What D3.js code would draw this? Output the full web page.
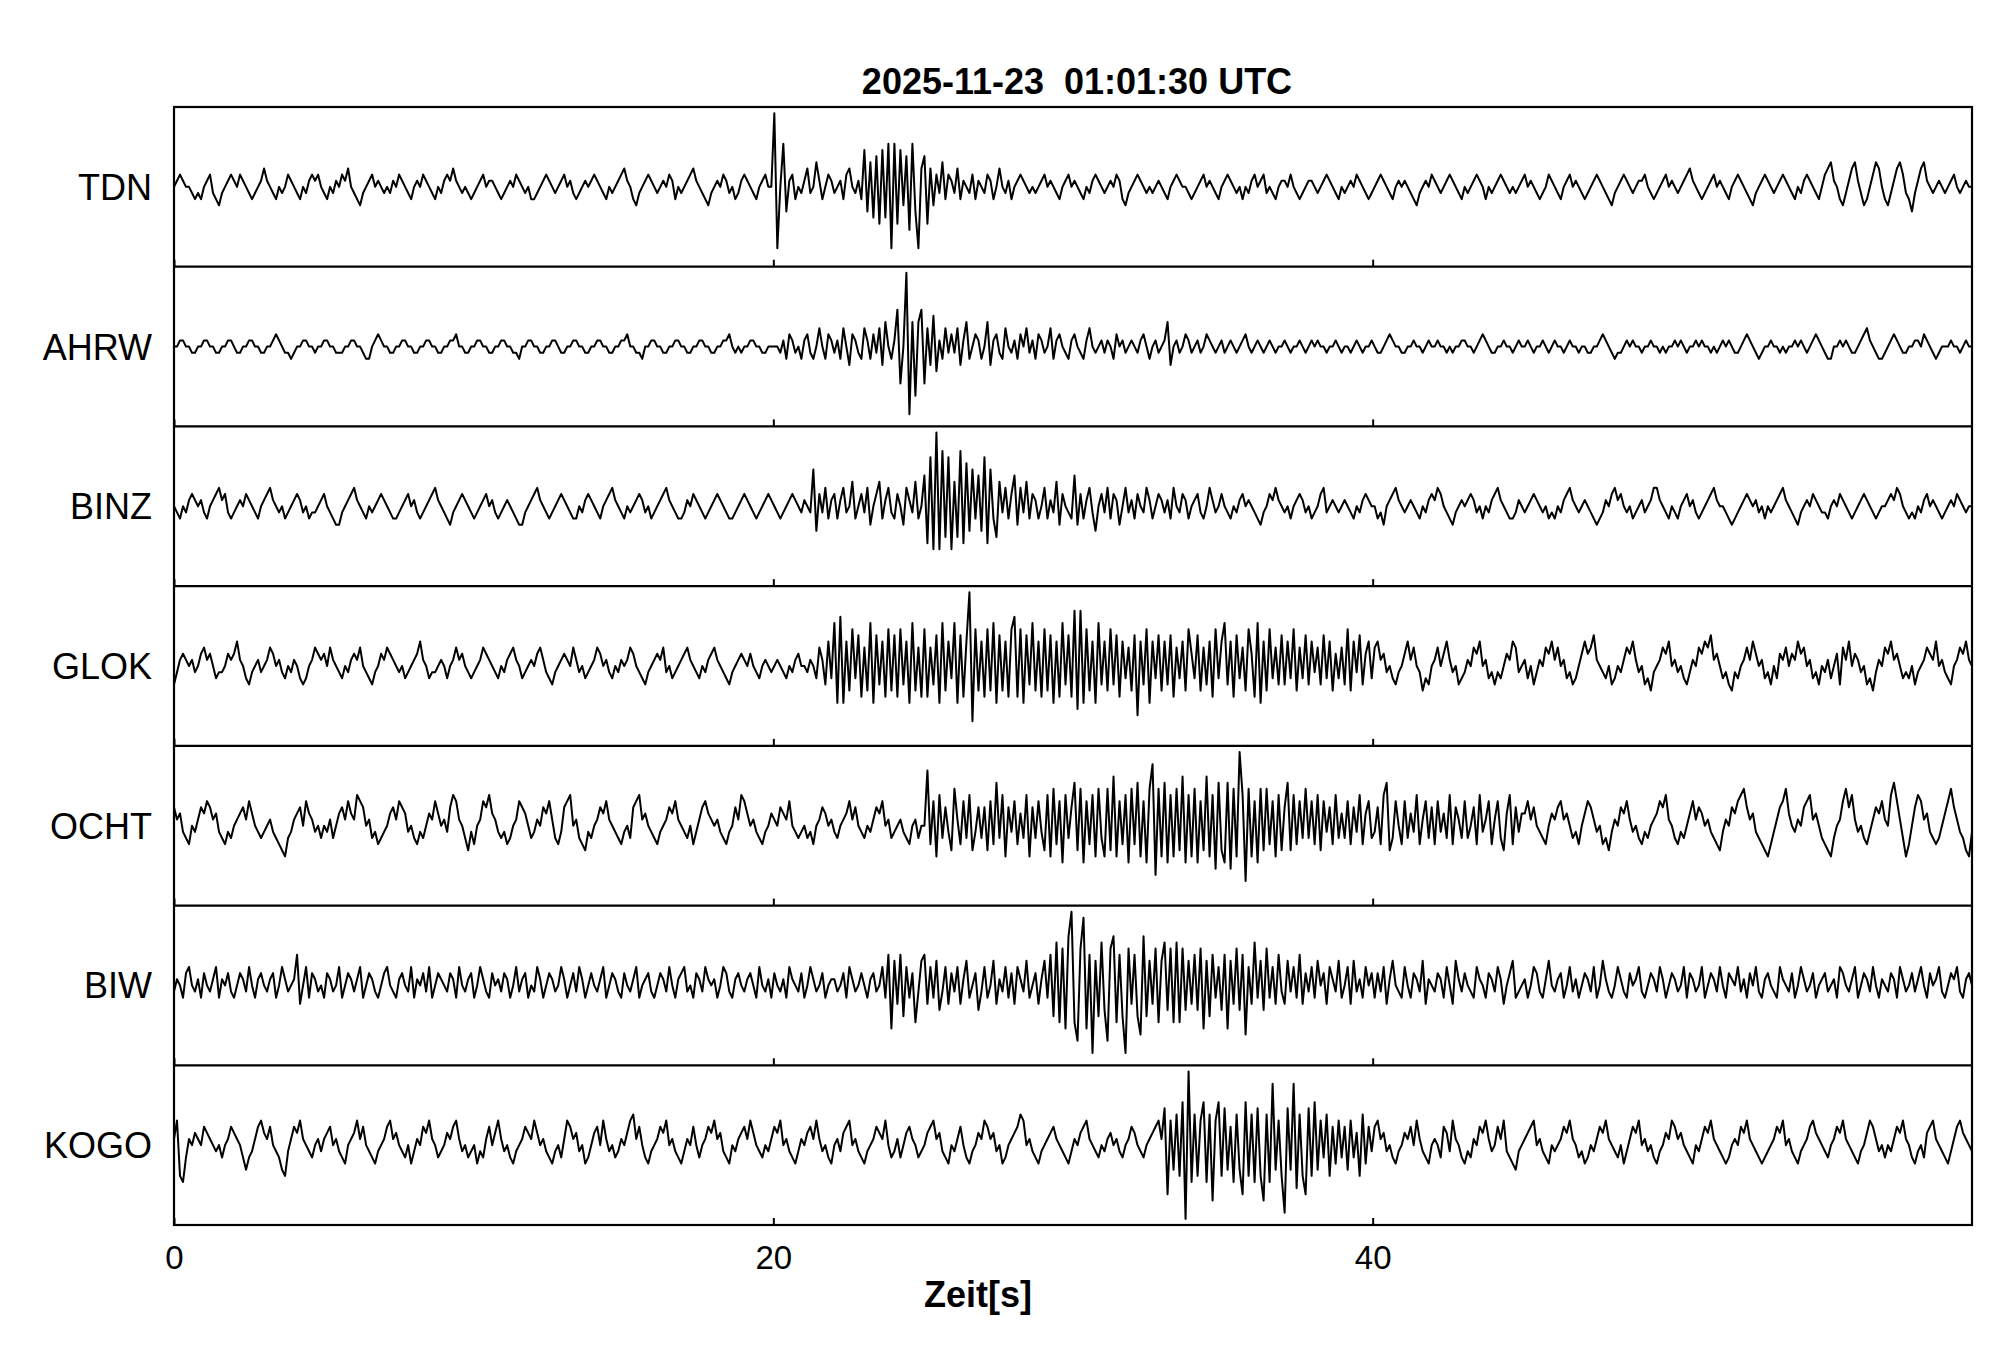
<!DOCTYPE html>
<html>
<head>
<meta charset="utf-8">
<script src="https://cdn.jsdelivr.net/npm/d3@7"></script>
<style>
  body { margin: 0; background: #fff; }
  text { font-family: "Liberation Sans", Arial, Helvetica, sans-serif; }
</style>
</head>
<body>
<svg id="chart"></svg>
<script>
var width = 2005;
var height = 1361;

var title = '2025-11-23  01:01:30 UTC';
var xLabel = 'Zeit[s]';
var stations = ['TDN', 'AHRW', 'BINZ', 'GLOK', 'OCHT', 'BIW', 'KOGO'];
var tickValues = [0, 20, 40];
var duration = 60;

// traces, one letter per 0.1 s (groups = 1 s)
// 'm' = 0, 'a' = -12, 'y' = +12 (relative amplitude)
var tdn = 'mnonmmlklk mnolkjlmno nmonmlklmn pnmlkmlmon mlkmlnonom lkmlnmonpm lkjlmnomnm lmlnmonmlk mnmonmlkml nonpnmlmlk ' +
  'lmnomnnmlk lmnmonmlmk klmnonmlmn omnlklmnmn onmlkmlmno pnmkjlmnon mlmnmonkml mnopnmlkjl mnmonlmkln onmlkmnomm ' +
  'ycmtinokml nplmqnkmon lmnkopmlnk siqhrgshtc tgsjrfticp rgpjolqkon lpknmloknm lonkmpmlnk mnonmlmlmn omnmlkmnom ' +
  'nmlkmlnonm lmnmonkjlm nonmlmlmnm lkmnonmmlk lmnomnmlkm nonmlmkmln omnolmlkmn nmomlklmnn mlmnonmlkm lmnmonmlkl ' +
  'mnonmlkmnm nmlkjlmnmo nmlmnonmlk mlmnonmkml mnonmlmlmn omnmlklmon mlkmnomnml klmnonmlkj lmnonmlmnn omlklmnomn ' +
  'mlmnopnmlk lmnomnmlkm nonmlkjlmn onmlmnonml kmlnonmlkm opqnmkjlnp qnljkmoqpm kjlnpqolki lnpqnmlmnm lmnomlmnmm';

var ahrw = 'mmnnmmllmm nnmmllmmnn mllmmnnmml lmmnonmllk lmmnnmmlmm nnmmlllmmn nmmlkkmnon mmllmmnnmm llmmnnmmll mmnnommllm ' +
  'mnnmmllmmn nmmllkmmnn mmllmmnnml lmmnnmmllm mnnmmllmmn nommllkmmn nmmllmmnnm mllmmnnmml lmmnnomlml mmnnmmllmm ' +
  'mmlnkonlmk nolkmpmkon lnkpmjonlk pnkolpjqmk nsgmybqeqs gpjrinkplo lpjnqkmonk mqjnolkpml nkomplnkon lmpknomlkn ' +
  'omlknpmlmn lnmkomnlmn mlnomkmnlm nqjmnlmonl mnlmonmlmn lmnmlmnoml mnmlmnmlmm nmlmmnmlmn mnmmlmmnml mmlmnmlmmn ' +
  'mllmnonmml lmmnmmlmnm mnmmlmlmmn nmmlmnonml lmmnmmlmnm mnmlmmnmlm nmmlmnmmlm mllmmnonml kllmnmnmml mmnmmlmlmm ' +
  'nmnmlmmnmn mmlmlmnmnm llmnonmlkl mmnmmlmlmm nmnmlmnonm lkkmmnmnml lmnopnmlkk lmnonmllmm nnmonmlklm mmnmmlmnmm';

var binz = 'mlkmlnonmn lkmnopnolk lmnmonmlkm nopnmlmklm nonlmkllmn omlkjjlmno pnmlkmlmno nmlkklmnom nlklmnopnm lkjlmnonml ' +
  'klmnomnlkl mnmlkjjlmn opnmlklmno nmlkkmlnon mlkmnopnml kmlmnonlmk lmnopnmlkk lnmonmlklm nonmlkklmn onmlklmnon ' +
  'mlklmnonml nmlsiolpkn oknplmqkmo lpjmoqknpl komjpnlqkm rgufyfvhuf qhvgtiskri ugskhqlpko rjplqkonkm pknlqjomlk ' +
  'rjoknplimo lpkonjmpln komlpnkmon lnkpmlonkm nolkmpnlmo mlkmlnomnm lkjlmonpnm lmkmnonlmk lmoplmnmlm nmlkmlnonm ' +
  'mkljmnopnm lmnmlkmlno npomlkjlmn mnonlmkmln opnmlkklnm lmnonmlmkl kmlnopnmlm nmlkjklnmo pnomlmklmn lmnppnmlkm ' +
  'lkmnomnlkl mnopnmmlkj klmnonmnlm kmlmnopnml kjlmnmonml lkmnmonmlk lmnonmlklm mnonpomlkl kmlnomnmlk lmnmonmlmm';

var glok = 'jlnonmnlmo pnomkllmon oqnmkjlmnl mnpomnlkml nmkjkmnpon ompnmlkmln onpmlkjlmo nponmlmklm noqnmkllmn mkmnpnomlk ' +
  'lmnponmlkm lnopnmklmn mopnlkjlmn onmpnlmklm npomnlkmln mnpomlkjlm nonplmklmn opnmlkmlno pnmlkjlmno nmomlkmnml ' +
  'mnmlkmlnom mlnmkpnjqk tgugqiskrh pitgrjqhsi rhsjqgtiph shpjrgtiqk tgrhqydsiq hsitgriqhs uhsgrjtiqh sirgqhtjrh ' +
  'vfvgsiqgtj qisjrhqkpi reqjsgqkri qjrhpkqiso kripjqhskq tjqhrkpiso htgqiskpjr jqksipkrjq lpjrkqiokp jsiqlrjoqk ' +
  'pqnolmkjlm oqnpmlikjm npmoqnlmjk lnmpoqmnkl jlkmonqplm nkmjlnmpoq npmnkljkmo qoprnmlkmj kmlnpoqnlm jkilmnpoqm ' +
  'nlmkjlnmpo qprnomklji lkmnpnqomn kljmkonpmo nqopmnkljm lnkmojpnqm onlmjkilnm poqnomklkm jlmnponqmn lkjmnpoqnm';

var ocht = 'pnolkjmlnp oqpnolkjlk mnopnqomlk lmnlkjihkl nopmqonlmk mlnkmopnqo nrqpmnkljk lmopnqpolm kjlkmonqom nlprqnmkil ' +
  'jmnqpronlk ljkmnqpomk lnmpoqnkjl pqrmnkjilk mnpoqnmlkj lmkpqrnoml kjlmnpoqnm lkmjlnpqon mnlkjlmpnr qomnlkjlmo ' +
  'nmponqmlkl mkljmnpomn lkmnoqnpml kmlnpoqmnk lmnlkjmnkm mvjqhrkpli snjqkrilpk piqjtkrhpl qjokrhpkql irhsjqgrkp ' +
  'tisgqjrhsk hsiuhqjrgs jthqgswesh tgrhsiugrh sgqiuhrfti gtfshyrdsh qgsisjqhri ptirjqkskq jriqlpjrko kqjplrjoqk ' +
  'lpjrtikqmj qkolrjnqkp jqlokrjpnk qkmpjrlnqj nqkiorjplo oqnpmlkjmo npqnomkljm oqpnlmjkil nmpoqnlmkj lkmnoqprnm ' +
  'kjlkmoqnpo mnlkjilnmp oqrspnolkj ihjlnpqsom lnmpqrnomk jihkmnqspr nlmkjlnpoq nmrtqnkhjm prqnolkjkm oqspnlkihl';

var biw = 'lnmkopmlnk omlnpknmol kmonlpmkno mlnokmpnlm nrjmpkonlm konlmpkmon lnpkmonlkm opmlknomlp knmolpkmon mlonkpmlno ' +
  'kmpnlkomnl onkmplnokm lpnkmonlmp nkmolpnkmo mlnpkmonlk omlnpkmnol kmonlpmkno plmkonlpnm nkmpolknom lnomkpmlnk ' +
  'omlnkpnmlo kmpnlmokmn nlmokpnlmo mknolmpkrf qjrhpkoglq rjpkqilpjo lpjnqkmoil pkmqjnlpko jpnlqkmojn qkrhtgsfuy ' +
  'gdsxfrbqht idsugrhbsj rheuhqjsgq tisgtgsiqj risfqhrkpi rfqjsirepj tkqiskpjrl jqlpkrjolp kqmojpnlqk mpjqlnkpmo ' +
  'kolpjnqmlk pmkonlqjnm lonkpmjqnl omlkpnmkon lpnjmoqklm nkmpolknqm lnokmplnkm onlpkmqnlk mpnlkomnpl kmonlpnkmo ' +
  'nlmpkonlmp kmonlpmkon mplnkomplk nomlkpnmlo kmpnlmokmn olmnkpomln pkmonlpmkn mlonkpnlmo lnpmkomnpl kmonplknom';

var kogo = 'nqhgknmonm ponmlmkmnp onmkiklnpq onpmlkihln poqnmlkmnl nopmnlkjmn oqnpmlkjlm npqnomlkmj lnmpoqnmkl monpqnlmkl ' +
  'mjlknpmoqn lmkjlmnpon qomnlkjlmk nqpnolmjkm opmqnlmkln moqrnpmkjl mnpoqmnlkj lnmpmkmnpo qnolkjmlno pnqomlkmln ' +
  'poqmnlkjln mopnqnlmkj mnlopqmnlk jlmnponqmk lnkmopnmkl mopqnolkjm lnpmkjlmon qpnolmjkmn oprqmnlkjl mnopnmlkjl ' +
  'nmopqnmlkm lnomnlkmnp omlkmnopqn seqirhtayg rhqtgrdqth sipgriethr gshdrgwiqh bsiwfrhesh tiqkrhpjqk piqkohrjpl ' +
  'pqnolmkjlm onpmqnlkjm nmkpolqnmk jlknmpoqnl mpnqlkjilm nopqmnlkjm lmnpoqnmkl jkmlnpoqnm lkmjlnpoqm nlmkjlmonq ' +
  'pnomlkjmln poqnmlkjkm nmpoqnmlkj klmnpoqmnl kjlmnpqonm lkmnpoqnml kjlmoqpnlm kmlnpoqnmk jlmkopqnml kjlnpqonml';

var traces = [tdn, ahrw, binz, glok, ocht, biw, kogo];

function decode(s) {
  return s.replace(/\s+/g, '').split('').map(function(c) { return c.charCodeAt(0) - 109; });
}

var svg = d3.select('#chart')
    .attr('width', width)
    .attr('height', height);

var plotLeft = 174, plotRight = 1972, plotTop = 107, plotBottom = 1225;

var xScale = d3.scaleLinear()
    .domain([0, duration])
    .range([plotLeft, plotRight]);

var band = d3.scaleBand()
    .domain(stations)
    .range([plotTop, plotBottom]);

stations.forEach(function(name, k) {
  var y0 = band(name);
  var y1 = y0 + band.bandwidth();
  var yScale = d3.scaleLinear().domain([-13, 13]).range([y1, y0]);
  var values = decode(traces[k]);
  var n = values.length;

  var line = d3.line()
      .x(function(d, i) { return xScale(i * duration / (n - 1)); })
      .y(function(d) { return yScale(d); });

  var g = svg.append('g');

  g.append('path')
      .datum(values)
      .attr('fill', 'none')
      .attr('stroke', '#000')
      .attr('stroke-width', 2)
      .attr('stroke-linejoin', 'round')
      .attr('d', line);

  // panel separator with small upward ticks
  var axis = d3.axisBottom(xScale)
      .tickValues(tickValues)
      .tickSize(-7)
      .tickPadding(14);
  var ax = g.append('g')
      .attr('transform', 'translate(0,' + y1 + ')')
      .call(axis);
  ax.select('.domain').remove();
  ax.selectAll('.tick line').attr('stroke', '#000').attr('stroke-width', 2);
  if (k < stations.length - 1) {
    ax.selectAll('.tick text').remove();
    g.append('line')
        .attr('x1', plotLeft).attr('x2', plotRight)
        .attr('y1', y1).attr('y2', y1)
        .attr('stroke', '#000')
        .attr('stroke-width', 2.2);
  } else {
    ax.selectAll('.tick text')
        .attr('y', 7 + 14)
        .attr('font-size', 33)
        .attr('font-family', '"Liberation Sans", Arial, sans-serif')
        .attr('fill', '#000');
  }

  g.append('text')
      .attr('x', 152)
      .attr('y', (y0 + y1) / 2 + 13)
      .attr('text-anchor', 'end')
      .attr('font-size', 36)
      .text(name);
});

svg.append('rect')
    .attr('x', plotLeft)
    .attr('y', plotTop)
    .attr('width', plotRight - plotLeft)
    .attr('height', plotBottom - plotTop)
    .attr('fill', 'none')
    .attr('stroke', '#000')
    .attr('stroke-width', 2.2);

svg.append('text')
    .attr('x', 1077)
    .attr('y', 94)
    .attr('text-anchor', 'middle')
    .attr('font-size', 36)
    .attr('font-weight', 'bold')
    .style('white-space', 'pre')
    .text(title);

svg.append('text')
    .attr('x', 978)
    .attr('y', 1307)
    .attr('text-anchor', 'middle')
    .attr('font-size', 36)
    .attr('font-weight', 'bold')
    .text(xLabel);
</script>
</body>
</html>
